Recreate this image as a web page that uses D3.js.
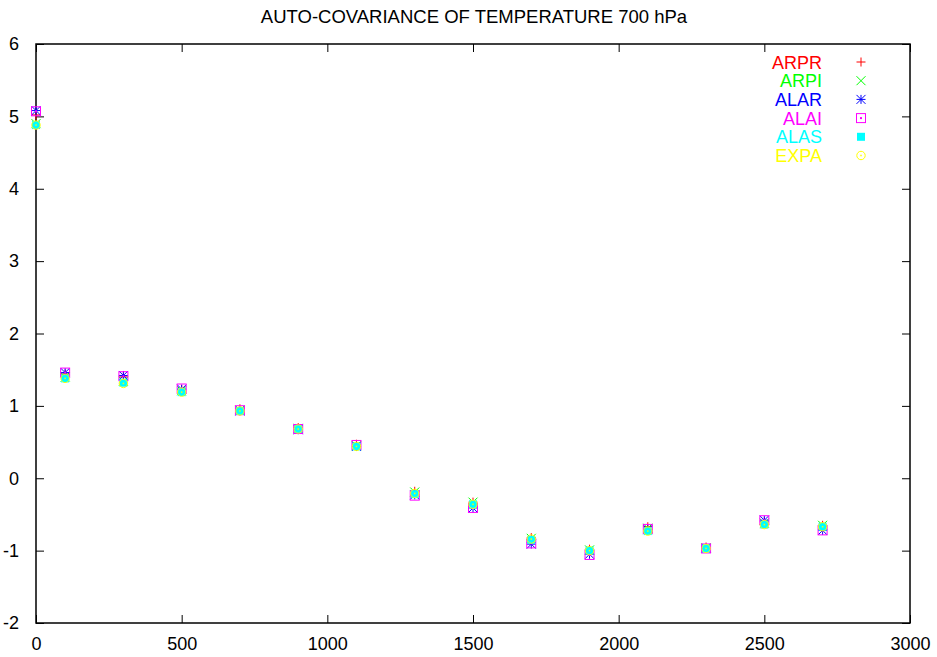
<!DOCTYPE html>
<html>
<head>
<meta charset="utf-8">
<script src="https://cdn.jsdelivr.net/npm/d3@7/dist/d3.min.js"></script>
<style>
  html, body { margin: 0; padding: 0; background: #fff; }
  svg { display: block; }
  text { font-family: "Liberation Sans", Arial, sans-serif; }
</style>
</head>
<body>
<svg id="chart" width="937" height="657"></svg>
<script>
// Lag distances (x) and auto-covariance estimates for each method
const lags = [0, 100, 300, 500, 700, 900, 1100, 1300, 1500, 1700, 1900, 2100, 2300, 2500, 2700];
const ARPR = [5.02, 1.44, 1.40, 1.23, 0.96, 0.70, 0.47, -0.18, -0.33, -0.82, -0.98, -0.67, -0.95, -0.60, -0.65];
const ARPI = [4.90, 1.40, 1.34, 1.21, 0.94, 0.69, 0.45, -0.19, -0.33, -0.83, -0.99, -0.69, -0.96, -0.62, -0.65];
const ALAR = [5.08, 1.46, 1.42, 1.23, 0.93, 0.67, 0.44, -0.23, -0.41, -0.91, -1.05, -0.71, -0.97, -0.58, -0.72];
const ALAI = [5.07, 1.46, 1.41, 1.24, 0.94, 0.68, 0.46, -0.24, -0.41, -0.90, -1.06, -0.70, -0.97, -0.58, -0.72];
const ALAS = [4.88, 1.38, 1.32, 1.19, 0.93, 0.68, 0.44, -0.22, -0.36, -0.85, -1.00, -0.73, -0.97, -0.64, -0.67];
const EXPA = [4.88, 1.38, 1.31, 1.19, 0.93, 0.68, 0.44, -0.21, -0.36, -0.84, -1.00, -0.73, -0.97, -0.64, -0.67];

const seriesNames = ["ARPR", "ARPI", "ALAR", "ALAI", "ALAS", "EXPA"];
const seriesValues = [ARPR, ARPI, ALAR, ALAI, ALAS, EXPA];
const seriesColors = ["#ff0000", "#00ff00", "#0000ff", "#ff00ff", "#00ffff", "#ffff00"];
const seriesMarkers = ["plus", "cross", "star", "boxdot", "square", "circledot"];

const xTicks = [0, 500, 1000, 1500, 2000, 2500, 3000];
const yTicks = [-2, -1, 0, 1, 2, 3, 4, 5, 6];
const title = "AUTO-COVARIANCE OF TEMPERATURE 700 hPa";

const svg = d3.select("#chart");
const plot = { left: 36, right: 910, top: 44, bottom: 623 };

const x = d3.scaleLinear().domain([0, 3000]).range([plot.left, plot.right]);
const y = d3.scaleLinear().domain([-2, 6]).range([plot.bottom, plot.top]);

// Plain integer labels with an ASCII hyphen for negatives
const fmt = d => String(d);

// Title
svg.append("text")
  .attr("x", (plot.left + plot.right) / 2 + 1)
  .attr("y", 23)
  .attr("text-anchor", "middle")
  .attr("font-size", 18.5)
  .attr("fill", "#000")
  .text(title);

// Axes with inward ticks, mirrored on top and right
const tickLen = 8;
const axBottom = d3.axisBottom(x).tickValues(xTicks).tickFormat(fmt).tickSizeInner(-tickLen).tickSizeOuter(0).tickPadding(14);
const axLeft = d3.axisLeft(y).tickValues(yTicks).tickFormat(fmt).tickSizeInner(-tickLen).tickSizeOuter(0).tickPadding(17);
const axTop = d3.axisTop(x).tickValues(xTicks).tickSizeInner(-tickLen).tickSizeOuter(0).tickFormat("");
const axRight = d3.axisRight(y).tickValues(yTicks).tickSizeInner(-tickLen).tickSizeOuter(0).tickFormat("");

function styleAxis(g) {
  g.select(".domain").remove();
  g.selectAll("line").attr("stroke", "#000").attr("stroke-width", 1);
  g.selectAll("text").attr("font-size", 18).attr("fill", "#000")
    .attr("font-family", "'Liberation Sans', Arial, sans-serif");
}

svg.append("g").attr("transform", `translate(0,${plot.bottom})`).call(axBottom).call(styleAxis);
svg.append("g").attr("transform", `translate(${plot.left},0)`).call(axLeft).call(styleAxis);
svg.append("g").attr("transform", `translate(0,${plot.top})`).call(axTop).call(styleAxis);
svg.append("g").attr("transform", `translate(${plot.right},0)`).call(axRight).call(styleAxis);

// Frame
svg.append("rect")
  .attr("x", plot.left).attr("y", plot.top)
  .attr("width", plot.right - plot.left).attr("height", plot.bottom - plot.top)
  .attr("fill", "none").attr("stroke", "#000").attr("stroke-width", 1.5);

// Marker drawing
function drawMarker(g, type, color, cx, cy) {
  const h = 4.5;
  if (type === "plus") {
    g.append("path").attr("d", `M${cx - h},${cy}H${cx + h}M${cx},${cy - h}V${cy + h}`)
      .attr("stroke", color).attr("stroke-width", 1).attr("fill", "none");
  } else if (type === "cross") {
    g.append("path").attr("d", `M${cx - h},${cy - h}L${cx + h},${cy + h}M${cx - h},${cy + h}L${cx + h},${cy - h}`)
      .attr("stroke", color).attr("stroke-width", 1).attr("fill", "none");
  } else if (type === "star") {
    g.append("path").attr("d",
      `M${cx - h},${cy}H${cx + h}M${cx},${cy - h}V${cy + h}` +
      `M${cx - h},${cy - h}L${cx + h},${cy + h}M${cx - h},${cy + h}L${cx + h},${cy - h}`)
      .attr("stroke", color).attr("stroke-width", 1).attr("fill", "none");
  } else if (type === "boxdot") {
    g.append("rect").attr("x", cx - h).attr("y", cy - h).attr("width", 2 * h).attr("height", 2 * h)
      .attr("stroke", color).attr("stroke-width", 1).attr("fill", "none");
    g.append("rect").attr("x", cx - 1).attr("y", cy - 1).attr("width", 2).attr("height", 2).attr("fill", color);
  } else if (type === "square") {
    g.append("rect").attr("x", cx - 4).attr("y", cy - 4).attr("width", 8).attr("height", 8)
      .attr("fill", color);
  } else if (type === "circledot") {
    g.append("circle").attr("cx", cx).attr("cy", cy).attr("r", 4.2)
      .attr("stroke", color).attr("stroke-width", 1).attr("fill", "none");
    g.append("rect").attr("x", cx - 0.75).attr("y", cy - 0.75).attr("width", 1.5).attr("height", 1.5).attr("fill", color);
  }
}

// Points for each series, drawn in order
seriesNames.forEach((name, i) => {
  const g = svg.append("g").attr("class", "series-" + name);
  seriesValues[i].forEach((v, j) => {
    drawMarker(g, seriesMarkers[i], seriesColors[i], x(lags[j]), y(v));
  });
});

// Legend
const legend = svg.append("g").attr("class", "legend");
seriesNames.forEach((name, i) => {
  const cy = 62 + i * 18.7;
  legend.append("text")
    .attr("x", 822).attr("y", cy + 6.5)
    .attr("text-anchor", "end")
    .attr("font-size", 18)
    .attr("fill", seriesColors[i])
    .text(name);
  drawMarker(legend, seriesMarkers[i], seriesColors[i], 861, cy);
});
</script>
</body>
</html>
